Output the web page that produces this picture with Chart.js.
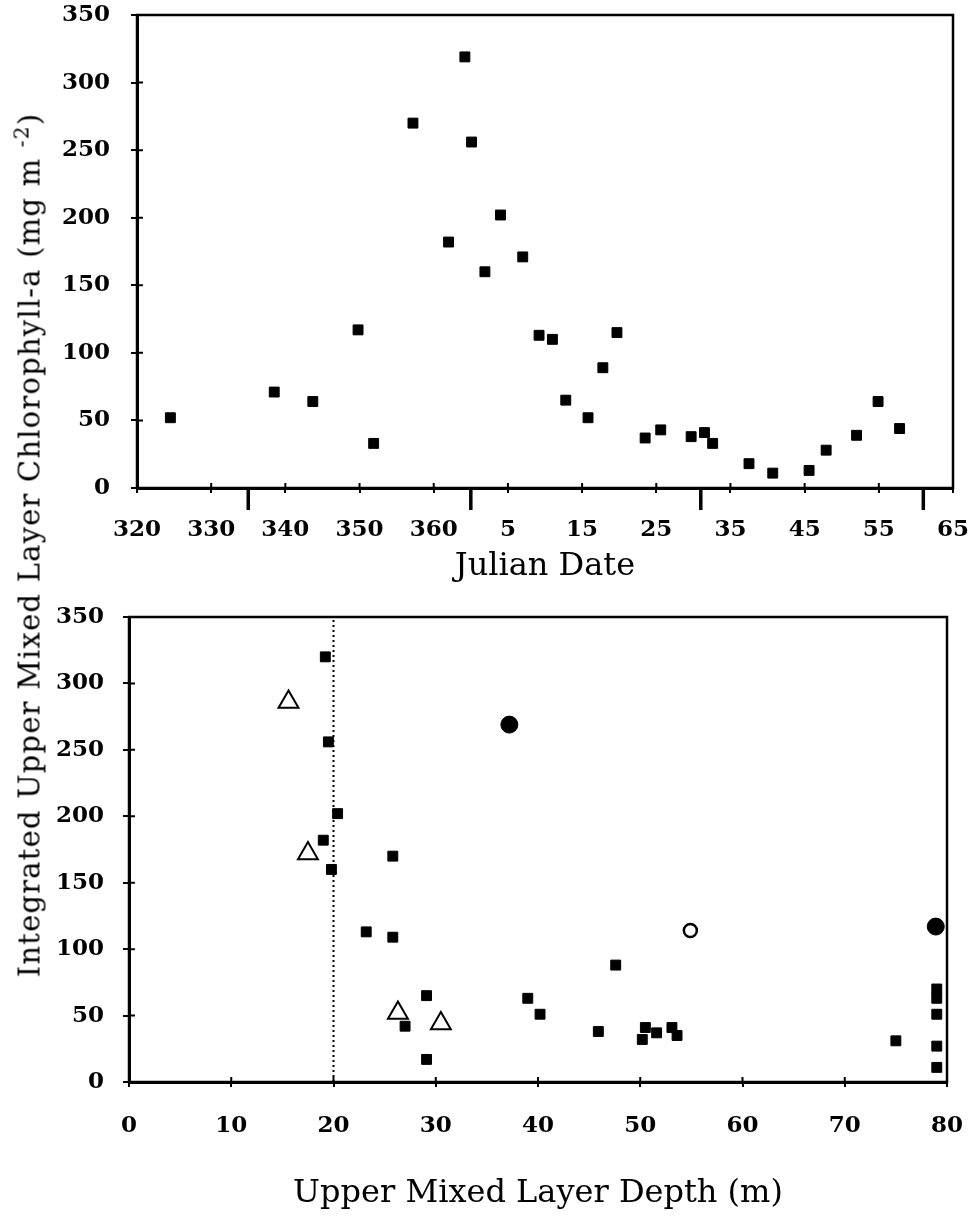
<!DOCTYPE html>
<html>
<head>
<meta charset="utf-8">
<script src="https://cdn.jsdelivr.net/npm/chart.js@4.4.1/dist/chart.umd.min.js"></script>
<style>
  html, body { margin:0; padding:0; background:#fff; }
  body { width:971px; height:1221px; position:relative; overflow:hidden; }
  #wTop { position:absolute; left:0; top:0; width:971px; height:600px; }
  #wBot { position:absolute; left:0; top:600px; width:971px; height:621px; }
  #yTitle {
    position:absolute; left:30px; top:545px;
    transform:translate(-50%,-50%) rotate(-90deg);
    white-space:nowrap; font-family:"DejaVu Serif"; font-size:29px;
    letter-spacing:1.2px; color:#000; line-height:1;
  }
  #yTitle sup { font-size:0.7em; vertical-align:0.55em; line-height:0; }
</style>
</head>
<body>
<div id="wTop"><canvas id="cTop"></canvas></div>
<div id="wBot"><canvas id="cBot"></canvas></div>
<div id="yTitle">Integrated Upper Mixed Layer Chlorophyll-a (mg m <sup>-2</sup>)</div>

<script>
// --- dados ---
// painel de cima: dia juliano contínuo (365 + n depois da virada do ano)
const julianDay = [324.5, 338.5, 343.7, 349.8, 351.9, 357.2, 362, 364.2, 365.1, 366.9,
                   369, 372, 374.2, 376, 377.8, 380.8, 382.8, 384.7, 388.5, 390.6,
                   394.7, 396.5, 397.6, 402.5, 405.7, 410.6, 412.9, 417, 419.9, 422.8];
const chlByDay  = [52, 71, 64, 117, 33, 270, 182, 319, 256, 160,
                   202, 171, 113, 110, 65, 52, 89, 115, 37, 43,
                   38, 41, 33, 18, 11, 13, 28, 39, 64, 44];
const dayTickValues = [320, 330, 340, 350, 360, 370, 380, 390, 400, 410, 420, 430];
const dayTickLabels = ['320','330','340','350','360','5','15','25','35','45','55','65'];
const monthTicks    = [335, 365, 396, 426];

// painel de baixo: profundidade da camada de mistura
const depthSq = [19.2, 19.5, 20.4, 19.0, 19.8, 25.8, 23.2, 25.8, 29.1, 27.0, 29.1,
                 47.6, 39.0, 40.2, 45.9, 50.5, 50.2, 51.6, 53.1, 53.6, 75.0,
                 79.0, 79.0, 79.0, 79.0, 79.0];
const chlSq   = [320, 256, 202, 182, 160, 170, 113, 109, 65, 42, 17,
                 88, 63, 51, 38, 41, 32, 37, 41, 35, 31,
                 70, 63, 51, 27, 11];
const depthTri = [15.6, 17.5, 26.3, 30.5];
const chlTri   = [286, 172, 52, 44];
const depthDot = [37.2, 78.9];
const chlDot   = [269, 117];
const depthRing = [54.9];
const chlRing   = [114];
const critDepth = 20;

const yTicks = [0, 50, 100, 150, 200, 250, 300, 350];

const pts = (xs, ys) => xs.map((x, i) => ({ x, y: ys[i] }));

const tickFont  = { family:'DejaVu Serif', size:23, weight:'bold' };
const titleFont = { family:'DejaVu Serif', size:32 };

// moldura, tracinhos internos e marcas de mês
const frame = {
  id:'frame',
  afterDatasetsDraw(chart, args, opts){
    const { ctx, chartArea:a, scales } = chart;
    ctx.save();
    ctx.strokeStyle = '#000';
    ctx.lineWidth = 2.5;
    ctx.strokeRect(a.left, a.top, a.right - a.left, a.bottom - a.top);
    ctx.lineWidth = 2;
    ctx.beginPath();
    scales.x.ticks.forEach(t => {
      const px = scales.x.getPixelForValue(t.value);
      ctx.moveTo(px, a.bottom); ctx.lineTo(px, a.bottom - 5);
    });
    scales.y.ticks.forEach(t => {
      const py = scales.y.getPixelForValue(t.value);
      ctx.moveTo(a.left, py); ctx.lineTo(a.left + 6, py);
    });
    ctx.stroke();
    if (opts.long) {
      ctx.lineWidth = 3.5;
      ctx.beginPath();
      opts.long.forEach(v => {
        const px = scales.x.getPixelForValue(v);
        ctx.moveTo(px, a.bottom); ctx.lineTo(px, a.bottom + 22);
      });
      ctx.stroke();
    }
    ctx.restore();
  }
};

function yScale(width, pad){
  return {
    min:0, max:350,
    afterBuildTicks: s => { s.ticks = yTicks.map(v => ({ value:v })); },
    ticks:{ color:'#000', font:tickFont, padding:pad },
    grid:{ drawOnChartArea:false, drawTicks:true, tickLength:6, color:'#000', lineWidth:2 },
    border:{ color:'#000', width:3 },
    afterFit: s => { s.width = width; s.paddingTop = 0; s.paddingBottom = 0; }
  };
}

function baseOpts(){
  return {
    responsive:true, maintainAspectRatio:false, animation:false,
    devicePixelRatio:1,
    plugins:{ legend:{ display:false }, tooltip:{ enabled:false } }
  };
}

const optTop = baseOpts();
optTop.layout = { padding:{ top:15, right:18, left:0, bottom:0 } };
optTop.plugins.frame = { long: monthTicks };
optTop.scales = {
  x:{
    type:'linear', min:320, max:430,
    afterBuildTicks: s => { s.ticks = dayTickValues.map(v => ({ value:v })); },
    ticks:{ color:'#000', font:tickFont, padding:23, maxRotation:0, autoSkip:false,
            callback: v => dayTickLabels[dayTickValues.indexOf(v)] },
    grid:{ drawOnChartArea:false, drawTicks:true, tickLength:5, color:'#000', lineWidth:2 },
    border:{ color:'#000', width:3 },
    title:{ display:true, text:'Julian Date', color:'#000', font:titleFont, padding:{ top:0, bottom:14 } },
    afterFit: s => { s.height = 112; s.paddingLeft = 0; s.paddingRight = 0; }
  },
  y: yScale(137, 21)
};

new Chart(document.getElementById('cTop'), {
  type:'scatter',
  data:{ datasets:[{
    data: pts(julianDay, chlByDay),
    pointStyle:'rect', radius:7, backgroundColor:'#000', borderColor:'#000', borderWidth:1
  }]},
  options: optTop,
  plugins:[frame]
});

const optBot = baseOpts();
optBot.layout = { padding:{ top:17, right:24, left:0, bottom:0 } };
optBot.plugins.frame = {};
optBot.scales = {
  x:{
    type:'linear', min:0, max:80,
    ticks:{ stepSize:10, color:'#000', font:tickFont, padding:25, maxRotation:0, autoSkip:false },
    grid:{ drawOnChartArea:false, drawTicks:true, tickLength:5, color:'#000', lineWidth:2 },
    border:{ color:'#000', width:3 },
    title:{ display:true, text:'Upper Mixed Layer Depth (m)', color:'#000', font:titleFont, padding:{ top:0, bottom:8 } },
    afterFit: s => { s.height = 139; s.paddingLeft = 0; s.paddingRight = 0; }
  },
  y: yScale(129, 19)
};

new Chart(document.getElementById('cBot'), {
  type:'scatter',
  data:{ datasets:[
    { data:[{ x:critDepth, y:0 }, { x:critDepth, y:350 }], showLine:true,
      borderColor:'#000', borderWidth:2, borderDash:[2,3], pointRadius:0, fill:false },
    { data: pts(depthSq, chlSq), pointStyle:'rect', radius:7,
      backgroundColor:'#000', borderColor:'#000', borderWidth:1 },
    { data: pts(depthTri, chlTri), pointStyle:'triangle', radius:11.5,
      backgroundColor:'#fff', borderColor:'#000', borderWidth:2 },
    { data: pts(depthDot, chlDot), pointStyle:'circle', radius:8.5,
      backgroundColor:'#000', borderColor:'#000', borderWidth:1 },
    { data: pts(depthRing, chlRing), pointStyle:'circle', radius:6.5,
      backgroundColor:'#fff', borderColor:'#000', borderWidth:2.5 }
  ]},
  options: optBot,
  plugins:[frame]
});
</script>
</body>
</html>
